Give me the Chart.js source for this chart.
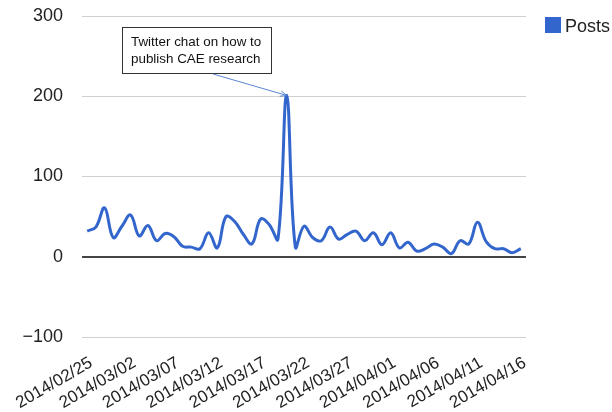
<!DOCTYPE html>
<html>
<head>
<meta charset="utf-8">
<script src="https://cdn.jsdelivr.net/npm/chart.js@4"></script>
<style>
html,body{margin:0;padding:0;background:#fff;}
#wrap{width:612px;height:412px;}
</style>
</head>
<body>
<div id="wrap"><canvas id="c" width="612" height="412"></canvas></div>
<script>
const dates = [];
(function(){
  const d = new Date(Date.UTC(2014,1,25));
  for (let i = 0; i < 51; i++) {
    const t = new Date(d.getTime() + i*86400000);
    const mm = String(t.getUTCMonth()+1).padStart(2,'0');
    const dd = String(t.getUTCDate()).padStart(2,'0');
    dates.push(t.getUTCFullYear() + '/' + mm + '/' + dd);
  }
})();
const seriesName = 'Posts';
const posts = [32, 37, 61, 24, 38, 52, 26, 39, 20, 29,
               25, 13, 12, 10, 30, 11, 50, 44, 28, 16,
               47, 40, 22, 201, 12, 38, 24, 20, 37, 22,
               28, 32, 20, 30, 15, 30, 11, 18, 7, 10,
               16, 12, 4, 20, 16, 43, 19, 10, 10, 5, 10];
const xTickIdx = [0,5,10,15,20,25,30,35,40,45,50];
const yTicks = [-100, 0, 100, 200, 300];
const annotationLines = ['Twitter chat on how to', 'publish CAE research'];
const annotationIdx = 23;

const FONT = '"Liberation Sans", Arial, Helvetica, sans-serif';

const overlay = {
  id: 'overlay',
  afterDraw(chart) {
    const ctx = chart.ctx;
    const xs = chart.scales.x, ys = chart.scales.y;
    // legend
    ctx.save();
    ctx.fillStyle = '#3366cc';
    ctx.fillRect(545, 17, 16, 16);
    ctx.fillStyle = '#222';
    ctx.font = '18px ' + FONT;
    ctx.textBaseline = 'alphabetic';
    ctx.textAlign = 'left';
    ctx.fillText(seriesName, 565, 32);
    // annotation
    const bx = 122, by = 27, bw = 149, bh = 46;
    ctx.fillStyle = '#fff';
    ctx.fillRect(bx, by, bw, bh);
    ctx.strokeStyle = '#333';
    ctx.lineWidth = 1;
    ctx.strokeRect(bx + 0.5, by + 0.5, bw, bh);
    ctx.fillStyle = '#111';
    ctx.font = '13.4px ' + FONT;
    ctx.fillText(annotationLines[0], bx + 9, by + 19);
    ctx.fillText(annotationLines[1], bx + 9, by + 36);
    // arrow
    const px = xs.getPixelForValue(annotationIdx);
    const py = ys.getPixelForValue(posts[annotationIdx]);
    const sx = 213, sy = by + bh + 1;
    ctx.strokeStyle = '#5b84d6';
    ctx.lineWidth = 1;
    ctx.beginPath();
    ctx.moveTo(sx, sy);
    ctx.lineTo(px, py);
    ctx.stroke();
    const ang = Math.atan2(py - sy, px - sx);
    ctx.beginPath();
    ctx.moveTo(px, py);
    ctx.lineTo(px - 7*Math.cos(ang - 0.4), py - 7*Math.sin(ang - 0.4));
    ctx.moveTo(px, py);
    ctx.lineTo(px - 7*Math.cos(ang + 0.4), py - 7*Math.sin(ang + 0.4));
    ctx.stroke();
    ctx.restore();
  }
};

new Chart(document.getElementById('c'), {
  type: 'line',
  data: {
    datasets: [{
      label: seriesName,
      data: posts.map((v, i) => ({x: i, y: v})),
      borderColor: '#3366cc',
      backgroundColor: '#3366cc',
      borderWidth: 3,
      pointRadius: 0,
      tension: 0.4,
      fill: false
    }]
  },
  options: {
    responsive: false,
    animation: false,
    devicePixelRatio: 1,
    layout: { padding: { left: 0, right: 86, top: 16, bottom: 0 } },
    plugins: { legend: { display: false }, tooltip: { enabled: false } },
    scales: {
      x: {
        type: 'linear',
        min: -0.6,
        max: 50.6,
        afterBuildTicks(scale) { scale.ticks = xTickIdx.map(v => ({value: v})); },
        afterFit(scale) { scale.height = 75; scale.paddingLeft = 0; scale.paddingRight = 0; },
        grid: { display: false, drawTicks: false },
        border: { display: false },
        ticks: {
          autoSkip: false,
          maxRotation: 30,
          minRotation: 30,
          padding: 16,
          labelOffset: 4,
          color: '#222',
          font: { family: FONT, size: 17 },
          callback: (v) => dates[v] || ''
        }
      },
      y: {
        min: -100,
        max: 300,
        afterBuildTicks(scale) { scale.ticks = yTicks.map(v => ({value: v})); },
        afterFit(scale) { scale.width = 82; scale.paddingTop = 0; scale.paddingBottom = 0; },
        grid: {
          drawTicks: false,
          color: (c) => c.tick && c.tick.value === 0 ? '#444' : '#d0d0d0',
          lineWidth: (c) => c.tick && c.tick.value === 0 ? 2 : 1
        },
        border: { display: false },
        ticks: {
          padding: 19,
          color: '#222',
          font: { family: FONT, size: 18 },
          callback: (v) => String(v).replace('-', '\u2212')
        }
      }
    }
  },
  plugins: [overlay]
});
</script>
</body>
</html>
